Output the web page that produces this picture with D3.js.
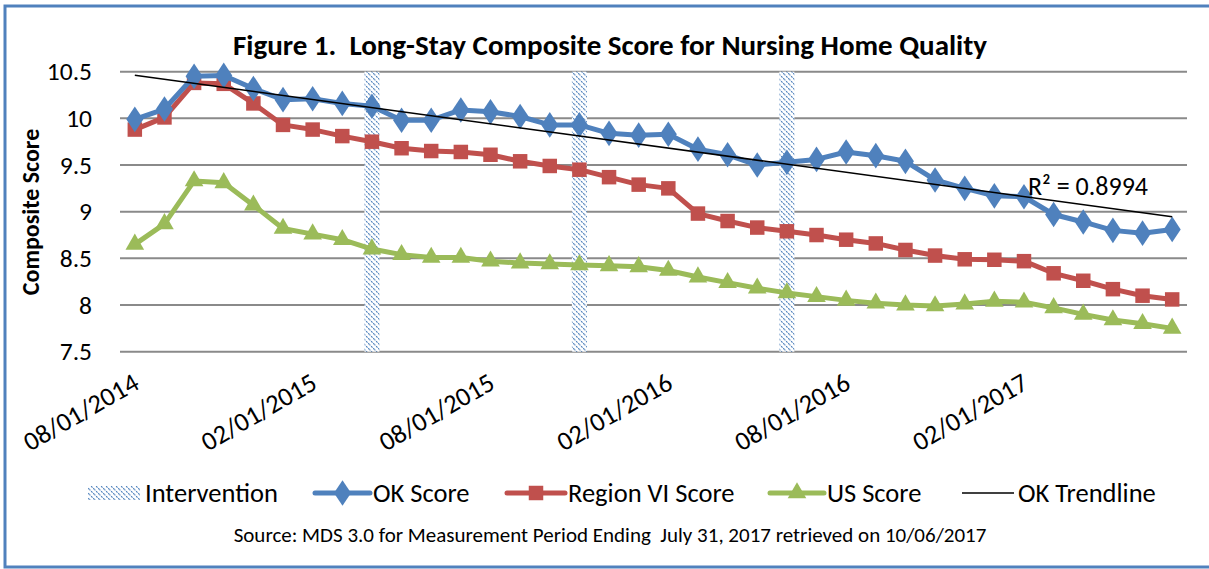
<!DOCTYPE html>
<html>
<head>
<meta charset="utf-8">
<script src="https://cdn.jsdelivr.net/npm/d3@7"></script>
<style>
  body { margin: 0; background: white; }
  svg { display: block; font-family: Calibri, Carlito, Lato, sans-serif; }
</style>
</head>
<body>
<svg></svg>
<script>

var months = [
  "08/01/2014","09/01/2014","10/01/2014","11/01/2014","12/01/2014","01/01/2015",
  "02/01/2015","03/01/2015","04/01/2015","05/01/2015","06/01/2015","07/01/2015",
  "08/01/2015","09/01/2015","10/01/2015","11/01/2015","12/01/2015","01/01/2016",
  "02/01/2016","03/01/2016","04/01/2016","05/01/2016","06/01/2016","07/01/2016",
  "08/01/2016","09/01/2016","10/01/2016","11/01/2016","12/01/2016","01/01/2017",
  "02/01/2017","03/01/2017","04/01/2017","05/01/2017","06/01/2017","07/01/2017"
];

var tickLabels = ["08/01/2014","02/01/2015","08/01/2015","02/01/2016","08/01/2016","02/01/2017"];

var okScore = [9.99,10.10,10.45,10.46,10.32,10.20,10.21,10.16,10.13,9.98,9.98,10.09,
               10.07,10.02,9.93,9.93,9.84,9.82,9.83,9.67,9.61,9.50,9.53,9.56,
               9.64,9.60,9.54,9.34,9.25,9.17,9.16,8.97,8.89,8.80,8.77,8.81];

var regionScore = [9.88,10.01,10.38,10.37,10.16,9.93,9.88,9.81,9.75,9.68,9.65,9.64,
                   9.61,9.54,9.49,9.45,9.37,9.29,9.25,8.98,8.90,8.83,8.79,8.75,
                   8.70,8.66,8.59,8.53,8.49,8.485,8.47,8.34,8.26,8.17,8.10,8.06];

var usScore = [8.65,8.87,9.33,9.31,9.07,8.82,8.76,8.70,8.60,8.54,8.51,8.51,
               8.47,8.45,8.44,8.43,8.42,8.41,8.37,8.30,8.24,8.18,8.13,8.09,
               8.05,8.02,8.00,7.99,8.01,8.04,8.03,7.97,7.90,7.84,7.80,7.75];

var interventionMonths = ["04/01/2015","11/01/2015","06/01/2016"];
var interventionValue = 10.5;

var yTicks = [7.5,8,8.5,9,9.5,10,10.5];
var rSquaredLabel = "R\u00b2 = 0.8994";

var width = 1209, height = 569;

var svg = d3.select('svg')
    .attr('width', width)
    .attr('height', height);

svg.append("rect")
    .attr("x", 5)
    .attr("y", 6)
    .attr("width", 1230)
    .attr("height", 561)
    .attr("fill", "white")
    .attr("stroke", "#5081bd")
    .attr("stroke-width", 3);

var defs = svg.append("defs");
var pat = defs.append("pattern")
    .attr("id", "hatch")
    .attr("patternUnits", "userSpaceOnUse")
    .attr("width", 5)
    .attr("height", 5);
pat.append("rect").attr("width", 5).attr("height", 5).attr("fill", "white");
pat.append("path")
    .attr("d", "M-1,-1 L6,6 M-1,4 L1,6 M4,-1 L6,1")
    .attr("stroke", "#4a7ebb")
    .attr("stroke-width", 1.1)
    .attr("stroke-dasharray", "2,1");

var xScale = d3.scaleBand()
    .domain(months)
    .range([120, 1187])
    .padding(0);

var yScale = d3.scaleLinear()
    .domain([7.5, 10.5])
    .range([351.7, 71.7]);

var xc = function(m){ return xScale(m) + xScale.bandwidth()/2; };

// gridlines
svg.append("g")
    .selectAll("line")
    .data(yTicks)
    .enter().append("line")
    .attr("x1", 120)
    .attr("x2", 1187)
    .attr("y1", function(d){ return yScale(d); })
    .attr("y2", function(d){ return yScale(d); })
    .attr("stroke", "#8a8a8a")
    .attr("stroke-width", 2);

// y axis labels
var y_axis = d3.axisLeft(yScale)
    .tickValues(yTicks)
    .tickSize(0)
    .tickPadding(28)
    .tickFormat(d3.format(""));
var gy = svg.append("g")
    .attr("transform", "translate(120,0)")
    .call(y_axis);
gy.select(".domain").remove();
gy.selectAll("text")
    .attr("font-size", 25.5)
    .attr("font-family", "Calibri, Carlito, Lato, sans-serif")
    .attr("fill", "#000");

// x axis labels
var x_axis = d3.axisBottom(xScale)
    .tickValues(tickLabels)
    .tickSize(0)
    .tickPadding(0);
var gx = svg.append("g")
    .attr("transform", "translate(0,351.7)")
    .call(x_axis);
gx.select(".domain").remove();
gx.selectAll("text")
    .attr("font-size", 26.5)
    .attr("font-family", "Calibri, Carlito, Lato, sans-serif")
    .attr("fill", "#000")
    .attr("text-anchor", "end")
    .attr("dy", 0)
    .attr("transform", "translate(6,36) rotate(-30)");

// intervention bars
var barW = 15;
svg.append("g")
    .selectAll("rect")
    .data(interventionMonths)
    .enter().append("rect")
    .attr("x", function(d){ return xc(d) - barW/2; })
    .attr("y", yScale(interventionValue))
    .attr("width", barW)
    .attr("height", yScale(7.5) - yScale(interventionValue))
    .attr("fill", "url(#hatch)");

// trendline (least squares on OK score)
var n = okScore.length;
var mx = d3.mean(d3.range(n)), my = d3.mean(okScore);
var sxy = d3.sum(okScore, function(v, i){ return (i - mx) * (v - my); });
var sxx = d3.sum(d3.range(n), function(i){ return (i - mx) * (i - mx); });
var slope = sxy / sxx, intercept = my - slope * mx;

var series = [
  { name: "OK Score", values: okScore, color: "#4f81bd", marker: d3.symbolDiamond, size: 190 },
  { name: "Region VI Score", values: regionScore, color: "#c0504d", marker: d3.symbolSquare, size: 210 },
  { name: "US Score", values: usScore, color: "#9bbb59", marker: d3.symbolTriangle, size: 150 }
];

var line = d3.line()
    .x(function(d, i){ return xc(months[i]); })
    .y(function(d){ return yScale(d); });

series.slice().reverse().forEach(function(s){
  svg.append("path")
      .datum(s.values)
      .attr("d", line)
      .attr("fill", "none")
      .attr("stroke", s.color)
      .attr("stroke-width", 5)
      .attr("stroke-linejoin", "round");
  svg.append("g")
      .selectAll("path")
      .data(s.values)
      .enter().append("path")
      .attr("d", d3.symbol().type(s.marker).size(s.size))
      .attr("transform", function(d, i){
          return "translate(" + xc(months[i]) + "," + yScale(d) + ")"
            + (s.marker === d3.symbolDiamond ? " scale(1.15,1)" : "");
      })
      .attr("fill", s.color);
});

svg.append("line")
    .attr("x1", xc(months[0]))
    .attr("y1", yScale(intercept))
    .attr("x2", xc(months[n-1]))
    .attr("y2", yScale(intercept + slope * (n-1)))
    .attr("stroke", "black")
    .attr("stroke-width", 1.5);

svg.append("text")
    .attr("x", 1028)
    .attr("y", 195)
    .attr("font-size", 26)
    .text(rSquaredLabel);

// title
svg.append("text")
    .attr("x", 610)
    .attr("y", 55)
    .attr("text-anchor", "middle")
    .attr("font-size", 29)
    .attr("font-weight", "bold")
    .style("white-space", "pre")
    .text("Figure 1.  Long-Stay Composite Score for Nursing Home Quality");

// y title
svg.append("text")
    .attr("transform", "translate(39,212) rotate(-90)")
    .attr("text-anchor", "middle")
    .attr("font-size", 24)
    .attr("font-weight", "bold")
    .text("Composite Score");

// legend
var ly = 493;
var lg = svg.append("g");
lg.append("rect")
    .attr("x", 88).attr("y", ly - 7).attr("width", 52).attr("height", 14)
    .attr("fill", "url(#hatch)");
lg.append("text").attr("x", 145).attr("y", ly + 9).attr("font-size", 26.5).text("Intervention");

var legendItems = [
  { s: series[0], x1: 315, x2: 370, tx: 373 },
  { s: series[1], x1: 507, x2: 565, tx: 568 },
  { s: series[2], x1: 770, x2: 824, tx: 827 }
];
legendItems.forEach(function(li){
  lg.append("line")
      .attr("x1", li.x1).attr("x2", li.x2)
      .attr("y1", ly).attr("y2", ly)
      .attr("stroke", li.s.color).attr("stroke-width", 5).attr("stroke-linecap", "round");
  lg.append("path")
      .attr("d", d3.symbol().type(li.s.marker).size(li.s.size))
      .attr("transform", "translate(" + ((li.x1 + li.x2)/2) + "," + ly + ")"
          + (li.s.marker === d3.symbolDiamond ? " scale(1.15,1)" : ""))
      .attr("fill", li.s.color);
  lg.append("text").attr("x", li.tx).attr("y", ly + 9).attr("font-size", 26.5).text(li.s.name);
});
lg.append("line")
    .attr("x1", 962).attr("x2", 1014)
    .attr("y1", ly).attr("y2", ly)
    .attr("stroke", "black").attr("stroke-width", 1.5);
lg.append("text").attr("x", 1018).attr("y", ly + 9).attr("font-size", 26.5).text("OK Trendline");

// source
svg.append("text")
    .attr("x", 610)
    .attr("y", 542)
    .attr("text-anchor", "middle")
    .attr("font-size", 21)
    .style("white-space", "pre")
    .text("Source: MDS 3.0 for Measurement Period Ending  July 31, 2017 retrieved on 10/06/2017");

</script>
</body>
</html>
